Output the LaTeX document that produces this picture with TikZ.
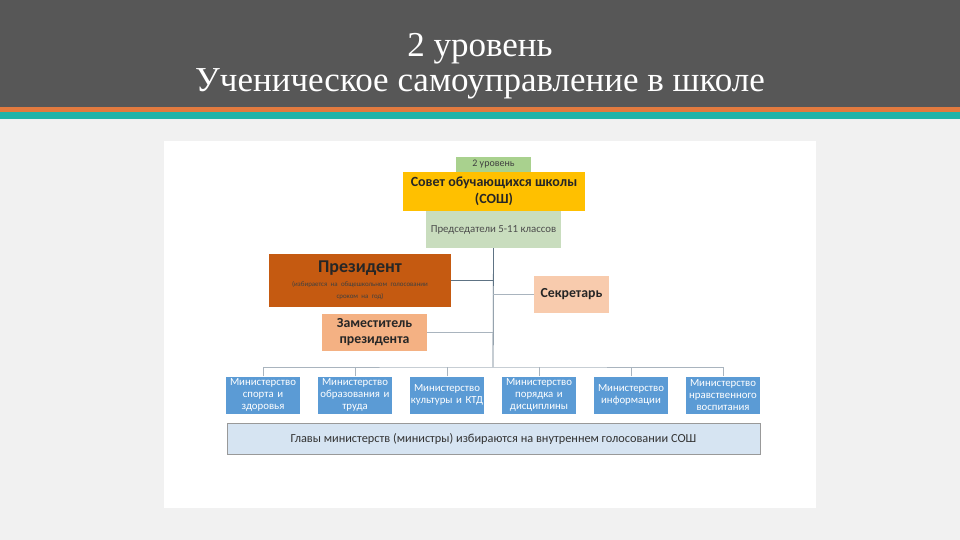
\documentclass[tikz,border=0pt]{standalone}
\usepackage{fontspec}
\setmainfont{Liberation Serif}
\newfontfamily\chartfont{Carlito}
\begin{document}
\begin{tikzpicture}[x=1pt,y=-1pt,
  box/.style={inner sep=1pt,align=center,font=\chartfont},
  mini/.style={box,fill=minblue,minimum width=73pt,minimum height=37pt,text=white,font=\chartfont\fontsize{10.8}{12}\selectfont,text width=74pt,inner sep=0pt},
  conn/.style={draw=lineblue,line width=0.8pt},
  faint/.style={draw=faintline,line width=0.7pt}]
\definecolor{hdr}{HTML}{575757}
\definecolor{stripeo}{HTML}{E27A3F}
\definecolor{stripet}{HTML}{20B3A9}
\definecolor{bg}{HTML}{F1F1F1}
\definecolor{lvlgreen}{HTML}{A9D18E}
\definecolor{sgreen}{HTML}{C9DDBE}
\definecolor{yel}{HTML}{FFC000}
\definecolor{pres}{HTML}{C55A11}
\definecolor{sec}{HTML}{F8CBAD}
\definecolor{dep}{HTML}{F4B183}
\definecolor{minblue}{HTML}{5B9BD5}
\definecolor{botblue}{HTML}{D6E4F2}
\definecolor{lineblue}{HTML}{5E7384}
\definecolor{faintline}{HTML}{A9B4BE}
\useasboundingbox (0,0) rectangle (960,540);
\fill[bg] (0,0) rectangle (960,540);
\fill[hdr] (0,0) rectangle (960,107);
\fill[stripeo] (0,107) rectangle (960,112);
\fill[stripet] (0,112) rectangle (960,119);
\node[font=\fontsize{35}{35}\selectfont,text=white,align=center] (title) at (480,66) {2 уровень\\Ученическое самоуправление в школе};
\fill[white] (164,141) rectangle (816,508);
% top boxes
\node[box,fill=lvlgreen,minimum width=75pt,minimum height=15pt,font=\chartfont\fontsize{10}{11}\selectfont,text=black!75] (lvl) at (493.5,164.5) {2 уровень};
\node[box,fill=yel,minimum width=182pt,minimum height=39pt,font=\chartfont\bfseries\fontsize{14}{17}\selectfont,text=black!85] (sosh) at (494,191.5) {Совет обучающихся школы\\(СОШ)};
\node[box,fill=sgreen,minimum width=135pt,minimum height=37pt,font=\chartfont\fontsize{10.8}{12}\selectfont,text=black!70] (pred) at (493.5,229.5) {Председатели 5-11 классов};
\coordinate (bus) at (493,367);
% president etc
\node[box,fill=pres,minimum width=182pt,minimum height=53pt,text width=180pt,inner sep=0pt] (pres) at (360,280.5) {{\bfseries\fontsize{18}{20}\selectfont\color{black!85}Президент}\\[3pt]{\fontsize{6.9}{11}\selectfont\color{black!75}(избирается на общешкольном голосовании\\сроком на год)}};
\node[box,fill=sec,minimum width=75pt,minimum height=37pt,font=\chartfont\bfseries\fontsize{13.8}{16}\selectfont,text=black!85] (sec) at (571.5,294.5) {Секретарь};
\node[box,fill=dep,minimum width=105pt,minimum height=37pt,font=\chartfont\bfseries\fontsize{13.8}{16}\selectfont,text=black!85] (dep) at (374.5,332.5) {Заместитель\\президента};
\draw[conn] (pred.south) -- (bus);
\draw[conn] (pres.east) -- (pres.east -| bus);
\draw[faint] (sec.west) -- (sec.west -| bus);
\draw[faint] (dep.east) -- (dep.east -| bus);
% ministries
\node[mini] (m1) at (263,395) {Министерство\\спорта и\\здоровья};
\node[mini] (m2) at (355,395) {Министерство\\образования и\\труда};
\node[mini] (m3) at (447,395) {Министерство\\культуры и КТД};
\node[mini] (m4) at (539,395) {Министерство\\порядка и\\дисциплины};
\node[mini] (m5) at (631,395) {Министерство\\информации};
\node[mini] (m6) at (723,395) {Министерство\\нравственного\\воспитания};
\draw[faint] (m1.north) |- (bus) -| (m6.north);
\foreach \m in {m2,m3,m4,m5} \draw[faint] (\m.north) -- (\m.north |- bus);
\node[box,fill=botblue,draw=black!40,minimum width=533pt,minimum height=31pt,font=\chartfont\fontsize{12.3}{14}\selectfont,text=black!80] (bot) at (493.5,438.5) {Главы министерств (министры) избираются на внутреннем голосовании СОШ};
\end{tikzpicture}
\end{document}
